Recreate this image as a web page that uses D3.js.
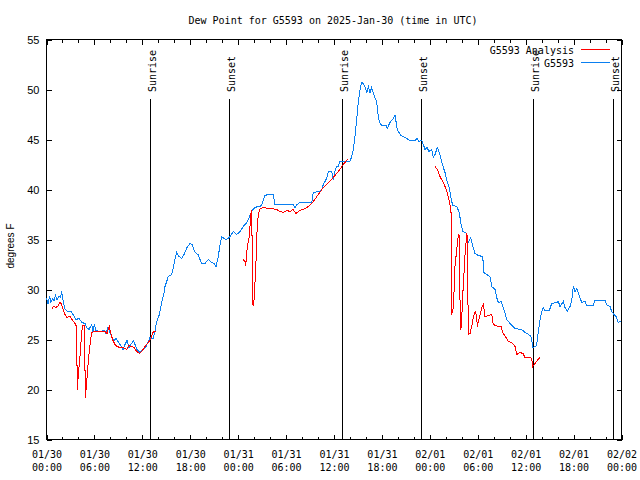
<!DOCTYPE html>
<html><head><meta charset="utf-8">
<script src="https://cdn.jsdelivr.net/npm/d3@7"></script>
<style>body{margin:0;background:#fff}svg{display:block}</style>
</head><body><svg id="c" width="640" height="480"></svg>
<script>
// ---- data (hours since 2025-01-30 00:00 UTC, degrees F) ----
const startUTC = Date.UTC(2025, 0, 30, 0, 0);
const spanHours = 72;
const titleText = "Dew Point for G5593 on 2025-Jan-30 (time in UTC)";
const yLabelText = "degrees F";
const seriesNames = ["G5593 Analysis", "G5593"];
const yTickValues = [15, 20, 25, 30, 35, 40, 45, 50, 55];

const obsHours = [0.00,0.19,0.38,0.56,0.75,0.94,1.13,1.31,1.57,1.75,1.90,2.07,2.32,2.69,3.07,3.32,3.69,4.07,4.45,4.82,5.03,5.32,5.66,5.82,5.99,6.20,6.70,7.20,7.45,7.70,7.95,8.20,8.45,8.70,8.95,9.20,9.58,9.83,10.08,10.33,10.64,10.89,11.08,11.33,11.71,12.08,12.46,12.75,12.96,13.34,13.58,13.80,14.09,14.43,14.71,14.84,15.09,15.25,15.68,15.84,16.09,16.30,16.59,16.93,17.22,17.59,17.97,18.22,18.60,18.97,19.22,19.43,19.85,20.26,20.69,20.98,21.23,21.51,21.73,21.94,22.23,22.56,22.98,23.39,23.82,24.23,24.64,24.98,25.27,25.70,25.86,26.11,26.48,26.73,26.98,27.36,27.74,28.40,28.61,29.24,30.49,30.87,31.12,31.37,31.74,32.50,33.21,33.41,34.00,34.46,34.66,34.87,35.12,35.29,35.71,35.91,36.13,36.34,36.50,36.75,38.00,38.22,38.42,38.63,38.84,39.04,39.26,39.47,39.67,39.88,40.10,40.30,40.51,40.72,41.05,41.35,41.47,41.67,41.97,42.51,42.67,43.01,43.43,43.64,43.93,44.14,44.35,44.89,45.52,46.14,46.39,46.64,46.98,47.18,47.40,47.65,47.90,48.23,48.43,48.65,48.94,49.27,49.49,49.90,50.19,50.44,50.61,50.86,51.37,51.69,51.87,52.12,52.62,52.82,53.12,53.37,53.66,54.07,54.62,54.78,55.12,55.53,55.75,56.16,56.37,56.58,56.91,57.20,57.41,57.63,58.04,58.67,59.51,59.92,60.21,60.54,60.75,60.86,61.26,61.38,61.59,61.80,62.01,62.21,62.42,62.96,63.26,63.89,64.09,64.30,64.71,64.92,65.21,65.55,65.77,65.97,66.18,66.39,66.59,66.80,67.02,67.43,67.64,68.47,68.68,69.93,70.12,70.56,70.77,71.06,71.31,71.60,71.81,72.00];
const obsValues = [29.1,28.6,29.3,28.7,29.1,28.9,29.4,29.0,29.3,29.2,29.8,28.9,28.0,27.8,27.8,27.5,27.0,27.1,26.7,26.6,26.2,26.0,26.5,25.8,26.5,25.9,25.8,25.9,25.6,26.2,25.7,25.2,24.9,25.1,24.8,24.5,24.0,24.5,24.9,24.2,24.6,24.9,24.5,24.0,23.7,24.0,24.3,24.8,25.2,25.1,25.8,26.8,27.4,28.7,29.6,30.3,30.9,31.3,31.5,32.0,33.0,33.7,33.3,33.1,33.5,34.2,34.6,34.5,33.7,33.5,33.0,32.6,32.6,33.0,32.7,32.6,32.3,33.3,34.5,35.3,35.1,35.0,35.3,35.8,35.5,35.8,36.3,36.6,37.0,37.8,38.0,38.2,38.3,38.3,38.5,39.4,39.5,39.5,38.5,38.5,38.5,38.5,38.2,38.5,38.7,38.7,38.7,39.7,39.8,39.9,40.5,40.8,41.2,41.8,41.8,41.0,41.9,42.3,42.3,42.8,42.8,43.3,44.0,45.3,47.0,48.7,50.0,50.7,50.6,50.3,49.7,50.3,49.7,50.2,49.3,48.8,47.8,46.8,46.4,46.4,46.1,46.7,47.1,47.4,46.0,45.7,45.4,45.2,44.9,44.9,45.1,44.8,44.9,44.5,44.0,44.2,43.8,44.0,43.2,43.5,44.2,43.5,42.7,41.7,40.7,40.2,39.3,38.4,38.3,37.7,36.7,35.8,35.6,34.7,35.2,34.3,33.6,33.4,33.3,31.7,31.5,31.3,30.3,30.0,29.2,28.7,28.8,28.2,27.7,27.0,26.6,26.1,26.0,25.7,25.6,25.4,25.2,24.2,24.3,24.5,25.8,27.0,27.8,28.2,27.9,27.9,28.6,28.7,28.8,28.3,28.8,28.2,27.8,28.3,28.9,30.3,29.8,30.1,29.7,29.2,28.7,28.8,28.4,28.4,28.9,28.9,28.5,28.3,27.8,27.5,27.3,26.7,26.8,26.9];

// analysis series; null marks a gap in the data
const anaHours = [0.63,0.85,1.19,1.48,1.69,1.82,2.10,2.32,2.53,2.94,3.19,3.36,3.57,3.76,3.86,3.98,4.13,4.26,4.38,4.51,4.76,4.86,5.01,5.13,5.26,5.45,5.64,6.07,7.33,7.58,7.86,8.16,8.33,8.58,8.83,9.20,9.58,10.04,10.33,10.67,10.96,11.21,11.62,11.92,12.08,12.33,12.75,13.02,13.30,13.46,13.71,
  18.0,
  24.64,24.86,24.94,25.14,25.39,25.61,25.71,25.80,25.92,26.02,26.23,26.40,26.65,27.15,27.77,28.24,28.83,29.24,29.65,30.12,30.49,30.87,31.24,31.74,32.37,32.78,33.41,34.04,34.66,35.29,35.91,36.54,37.17,37.79,
  43.0,
  48.65,48.94,49.27,49.61,49.90,50.19,50.44,50.65,50.74,50.94,51.07,51.15,51.37,51.57,51.69,51.82,51.94,52.16,52.41,52.62,52.69,52.82,53.03,53.24,53.44,53.66,53.87,53.94,54.07,54.29,54.50,54.70,54.91,55.33,55.75,55.95,56.58,56.91,57.20,57.63,57.83,58.26,58.67,58.88,59.30,59.67,59.92,60.54,60.75,60.88,61.26,61.55,61.82];
const anaValues = [28.0,28.3,28.2,28.4,28.7,28.6,28.0,27.5,27.2,27.3,27.0,26.8,26.6,26.3,20.0,21.5,22.7,24.0,25.5,26.4,26.4,19.2,20.5,21.8,23.0,24.5,25.7,25.8,25.8,25.6,26.3,25.3,24.9,24.5,24.3,24.2,24.2,24.0,24.4,24.3,24.2,23.9,23.6,23.8,24.0,24.3,24.7,25.0,25.7,25.8,25.8,
  null,
  33.0,32.8,32.4,34.3,35.3,37.7,37.9,28.5,28.4,29.2,32.7,36.7,38.0,38.2,38.1,38.1,38.0,37.8,37.7,37.9,37.8,38.0,37.6,37.9,38.1,38.3,38.8,39.5,40.2,40.7,41.2,41.8,42.5,43.1,
  null,
  42.3,42.0,41.3,40.8,40.3,39.7,38.8,38.0,27.5,28.2,30.5,32.3,34.0,35.5,35.4,26.0,26.2,30.0,33.5,35.5,35.4,25.5,25.6,26.3,27.2,27.8,27.3,26.3,26.8,27.5,28.2,28.5,27.3,27.4,27.5,26.5,26.3,26.3,25.6,25.1,24.8,24.7,24.3,23.5,23.7,23.6,23.2,23.2,23.1,22.3,22.7,23.0,23.2];

const sunHours = [12.98, 22.91, 36.97, 46.92, 60.95, 70.93];
const sunNames = ["Sunrise", "Sunset", "Sunrise", "Sunset", "Sunrise", "Sunset"];

// ---- drawing ----
const H = 3600 * 1000;
const toDate = h => new Date(startUTC + h * H);
const obs = obsHours.map((h, i) => ({ t: toDate(h), v: obsValues[i] }));
const ana = anaHours.map((h, i) => ({ t: toDate(h), v: anaValues[i] }));

const L = 46.5, R = 621.5, T = 39.5, B = 439.5;
const svg = d3.select("#c");
const x = d3.scaleUtc().domain([toDate(0), toDate(spanHours)]).range([L, R]);
const y = d3.scaleLinear().domain([15, 55]).range([B, T]);

const mono = "'DejaVu Sans Mono', monospace";
const sans = "'Liberation Sans', Arial, sans-serif";

svg.append("rect").attr("width", 640).attr("height", 480).attr("fill", "#fff");

// title
svg.append("text").attr("x", 333).attr("y", 24).attr("text-anchor", "middle")
  .attr("font-family", mono).attr("font-size", 10).text(titleText);

// y label
svg.append("text").attr("transform", "translate(14,246) rotate(-90)")
  .attr("text-anchor", "middle").attr("font-family", sans).attr("font-size", 10).text(yLabelText);

const minorTicks = d3.utcHour.every(2).range(toDate(0), toDate(spanHours + 0.01));
const majorTicks = d3.utcHour.every(6).range(toDate(0), toDate(spanHours + 0.01));

// bottom axis: minor ticks
svg.append("g").attr("transform", `translate(0,${B})`)
  .call(d3.axisBottom(x).tickValues(minorTicks).tickSizeInner(-3).tickSizeOuter(0).tickFormat(""))
  .call(g => g.select(".domain").remove());
// bottom axis: major ticks with two-line labels
const bx = svg.append("g").attr("transform", `translate(0,${B})`)
  .call(d3.axisBottom(x).tickValues(majorTicks).tickSizeInner(-5).tickSizeOuter(0).tickPadding(0)
    .tickFormat(d3.utcFormat("%m/%d")))
  .call(g => g.select(".domain").remove());
bx.selectAll(".tick text").each(function (d) {
  const t = d3.select(this);
  t.text(null).attr("y", 0).attr("dy", null)
    .attr("font-family", mono).attr("font-size", 10).attr("fill", "#000");
  t.append("tspan").attr("x", 0).attr("y", 18).text(d3.utcFormat("%m/%d")(d));
  t.append("tspan").attr("x", 0).attr("y", 31).text(d3.utcFormat("%H:%M")(d));
});
// top mirror ticks
svg.append("g").attr("transform", `translate(0,${T})`)
  .call(d3.axisTop(x).tickValues(minorTicks).tickSizeInner(-3).tickSizeOuter(0).tickFormat(""))
  .call(g => g.select(".domain").remove());
svg.append("g").attr("transform", `translate(0,${T})`)
  .call(d3.axisTop(x).tickValues(majorTicks).tickSizeInner(-5).tickSizeOuter(0).tickFormat(""))
  .call(g => g.select(".domain").remove());

// left axis
svg.append("g").attr("transform", `translate(${L},0)`)
  .call(d3.axisLeft(y).tickValues(yTickValues).tickSizeInner(-5).tickSizeOuter(0).tickPadding(7))
  .call(g => g.select(".domain").remove())
  .call(g => g.selectAll("text").attr("font-family", sans).attr("font-size", 11).attr("fill", "#000"));
// right mirror ticks
svg.append("g").attr("transform", `translate(${R},0)`)
  .call(d3.axisRight(y).tickValues(yTickValues).tickSizeInner(-5).tickSizeOuter(0).tickFormat(""))
  .call(g => g.select(".domain").remove());

svg.selectAll(".tick line").attr("stroke", "#000").attr("shape-rendering", "crispEdges");

// frame
svg.append("rect").attr("x", L).attr("y", T).attr("width", R - L).attr("height", B - T)
  .attr("fill", "none").attr("stroke", "#000").attr("shape-rendering", "crispEdges");

// sunrise / sunset markers
sunHours.forEach((h, i) => {
  const px = Math.round(x(toDate(h))) + 0.5;
  svg.append("line").attr("x1", px).attr("x2", px).attr("y1", 99).attr("y2", B)
    .attr("stroke", "#000").attr("shape-rendering", "crispEdges");
  svg.append("text").attr("transform", `translate(${px + 5},92) rotate(-90)`)
    .attr("font-family", mono).attr("font-size", 10).text(sunNames[i]);
});

// series
const line = d3.line().defined(d => d.v != null).x(d => x(d.t)).y(d => y(d.v));
svg.append("path").datum(obs).attr("d", line).attr("fill", "none")
  .attr("stroke", "#0a7ff0").attr("stroke-width", 1).attr("shape-rendering", "crispEdges");
svg.append("path").datum(ana).attr("d", line).attr("fill", "none")
  .attr("stroke", "#ff0000").attr("stroke-width", 1).attr("shape-rendering", "crispEdges");

// legend
const legendColors = ["#ff0000", "#0a7ff0"];
seriesNames.forEach((name, i) => {
  const ly = 50 + i * 13;
  svg.append("text").attr("x", 574).attr("y", ly + 4).attr("text-anchor", "end")
    .attr("font-family", mono).attr("font-size", 10).text(name);
  svg.append("line").attr("x1", 581).attr("x2", 610).attr("y1", ly - 0.5).attr("y2", ly - 0.5)
    .attr("stroke", legendColors[i]).attr("stroke-width", 1).attr("shape-rendering", "crispEdges");
});
</script>
</body></html>
